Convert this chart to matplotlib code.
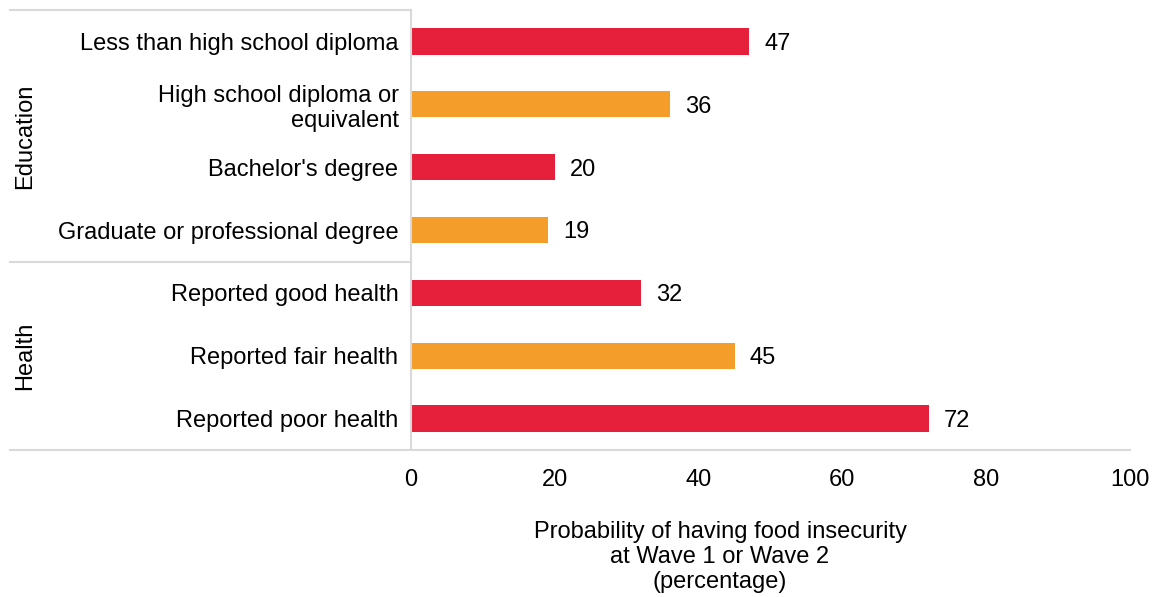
import matplotlib.pyplot as plt
from matplotlib.lines import Line2D

plt.rcParams['font.family'] = ['Liberation Sans', 'DejaVu Sans']

categories = ['Less than high school diploma', 'High school diploma or\nequivalent',
              "Bachelor's degree", 'Graduate or professional degree',
              'Reported good health', 'Reported fair health', 'Reported poor health']
values = [47, 36, 20, 19, 32, 45, 72]
groups = ['Education', 'Health']
xticks = [0, 20, 40, 60, 80, 100]

red = '#E61F3A'
orange = '#F59D2A'
grid_col = '#D9D9D9'
colors = [red, orange, red, orange, red, orange, red]
fs = 17

W, H = 1160, 597
fig = plt.figure(figsize=(W / 100, H / 100), dpi=100)
ax = fig.add_axes([411 / W, 1 - 450 / H, (1130 - 411) / W, 440 / H])

y = list(range(len(categories)))
ax.barh(y, values, height=0.42, color=colors)
for yi, v in zip(y, values):
    ax.annotate(str(v), (v, yi), xytext=(11, 0), textcoords='offset points',
                va='center_baseline', ha='left', fontsize=fs)

ax.set_ylim(len(categories) - 0.5, -0.5)
ax.set_xlim(0, 100)
ax.set_yticks(y)
ax.set_yticklabels(categories, fontsize=fs, linespacing=1.17)
ax.set_xticks(xticks)
ax.set_xticklabels([str(t) for t in xticks], fontsize=fs)
ax.tick_params(axis='both', length=0)
ax.tick_params(axis='y', pad=9)
ax.tick_params(axis='x', pad=14)
for s in ['top', 'right', 'bottom']:
    ax.spines[s].set_visible(False)
ax.spines['left'].set_color(grid_col)
ax.spines['left'].set_linewidth(1.5)

def hline(x0, x1, yp):
    fig.add_artist(Line2D([x0 / W, x1 / W], [1 - yp / H, 1 - yp / H],
                          color=grid_col, lw=1.5, transform=fig.transFigure))

hline(10, 411, 10)
hline(10, 411, 262)
hline(10, 1130, 450)

# group labels
fig.text(25 / W, 1 - 136 / H, groups[0], rotation=90, ha='center', va='center', fontsize=fs)
fig.text(25 / W, 1 - 356 / H, groups[1], rotation=90, ha='center', va='center', fontsize=fs)

fig.text(720 / W, 1 - 557 / H,
         'Probability of having food insecurity\nat Wave 1 or Wave 2\n(percentage)',
         ha='center', va='center', fontsize=fs, linespacing=1.17)

fig.savefig('out.png', dpi=100)
